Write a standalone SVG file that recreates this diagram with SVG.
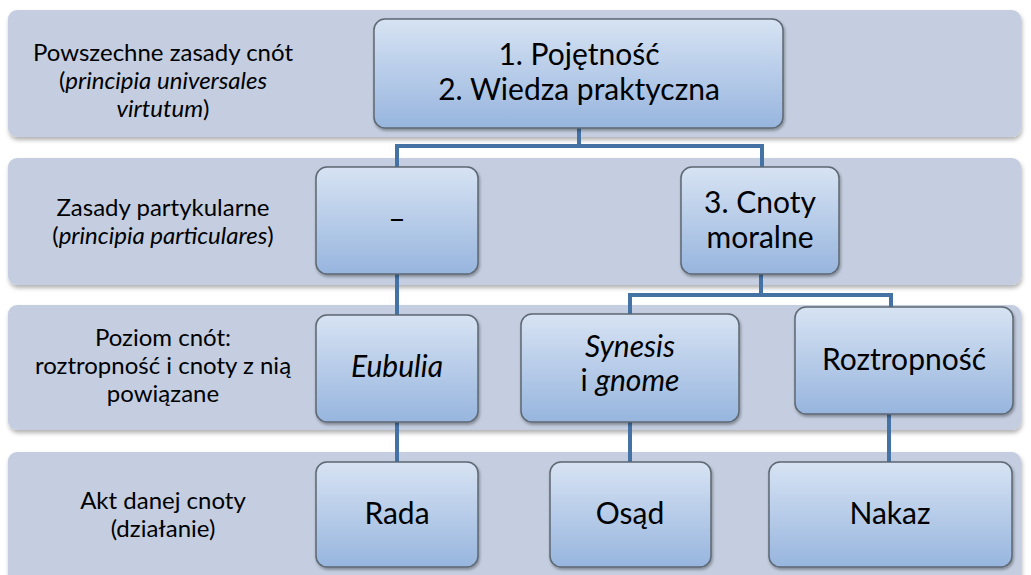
<svg xmlns="http://www.w3.org/2000/svg" width="1031" height="575" viewBox="0 0 1031 575">
<defs>
<linearGradient id="ng" x1="0" y1="0" x2="0" y2="1">
<stop offset="0" stop-color="#d7e3f3"/>
<stop offset="1" stop-color="#97b5de"/>
</linearGradient>
<filter id="bsh" x="-5%" y="-10%" width="110%" height="130%">
<feDropShadow dx="1" dy="3" stdDeviation="2" flood-color="#000" flood-opacity="0.3"/>
</filter>
<filter id="nsh" x="-10%" y="-10%" width="120%" height="130%">
<feDropShadow dx="1" dy="2" stdDeviation="1.5" flood-color="#000" flood-opacity="0.35"/>
</filter>
</defs>
<style>
.band{fill:#c4cee0;filter:url(#bsh)}
.node{fill:url(#ng);stroke:#5d6772;stroke-width:1.5;filter:url(#nsh)}
.lbl{font-family:Lato,"Liberation Sans",sans-serif;font-size:24px;fill:#000;text-anchor:middle}
.nt{font-family:Lato,"Liberation Sans",sans-serif;font-size:30px;fill:#000;text-anchor:middle}
.conn{fill:none;stroke:#4472a5;stroke-width:4}
</style>
<rect width="1031" height="575" fill="#fff"/>
<g id="bands">
<g id="band1"><rect class="band" x="8" y="10" width="1013" height="127" rx="9"/>
<text class="lbl" x="163" y="61">Powszechne zasady cnót</text>
<text class="lbl" x="163" y="89">(<tspan font-style="italic">principia universales</tspan></text>
<text class="lbl" x="163" y="117"><tspan font-style="italic">virtutum</tspan>)</text></g>
<g id="band2"><rect class="band" x="8" y="158" width="1013" height="127" rx="9"/>
<text class="lbl" x="163" y="216">Zasady partykularne</text>
<text class="lbl" x="163" y="244">(<tspan font-style="italic">principia particulares</tspan>)</text></g>
<g id="band3"><rect class="band" x="8" y="305" width="1013" height="125" rx="9"/>
<text class="lbl" x="163" y="346">Poziom cnót:</text>
<text class="lbl" x="163" y="374">roztropność i cnoty z nią</text>
<text class="lbl" x="163" y="402">powiązane</text></g>
<g id="band4"><rect class="band" x="8" y="452" width="1013" height="135" rx="9"/>
<text class="lbl" x="163" y="509">Akt danej cnoty</text>
<text class="lbl" x="163" y="537">(działanie)</text></g>
</g>
<g id="connectors">
<path class="conn" d="M579 128V146M397 167V146H762V167"/>
<path class="conn" d="M397 274V315"/>
<path class="conn" d="M761 274V295M630 314V295H891V307"/>
<path class="conn" d="M397 422V462"/>
<path class="conn" d="M630 422V462"/>
<path class="conn" d="M889 414V462"/>
</g>
<g id="n1"><rect class="node" x="374" y="19" width="409" height="109" rx="11"/>
<text class="nt" x="579" y="65">1. Pojętność</text>
<text class="nt" x="579" y="100">2. Wiedza praktyczna</text></g>
<g id="n2"><rect class="node" x="316" y="167" width="162" height="107" rx="11"/>
<text class="nt" x="397" y="229">–</text></g>
<g id="n3"><rect class="node" x="681" y="167" width="158" height="107" rx="11"/>
<text class="nt" x="760" y="213">3. Cnoty</text>
<text class="nt" x="760" y="248">moralne</text></g>
<g id="n4"><rect class="node" x="316" y="315" width="162" height="107" rx="11"/>
<text class="nt" x="397" y="377" font-style="italic">Eubulia</text></g>
<g id="n5"><rect class="node" x="521" y="314" width="218" height="108" rx="11"/>
<text class="nt" x="630" y="357" font-style="italic">Synesis</text>
<text class="nt" x="630" y="391">i <tspan font-style="italic">gnome</tspan></text></g>
<g id="n6"><rect class="node" x="795" y="307" width="218" height="107" rx="11"/>
<text class="nt" x="904" y="370">Roztropność</text></g>
<g id="n7"><rect class="node" x="316" y="462" width="162" height="105" rx="11"/>
<text class="nt" x="397" y="524">Rada</text></g>
<g id="n8"><rect class="node" x="550" y="462" width="161" height="105" rx="11"/>
<text class="nt" x="630" y="524">Osąd</text></g>
<g id="n9"><rect class="node" x="769" y="462" width="243" height="105" rx="11"/>
<text class="nt" x="890" y="524">Nakaz</text></g>
</svg>
